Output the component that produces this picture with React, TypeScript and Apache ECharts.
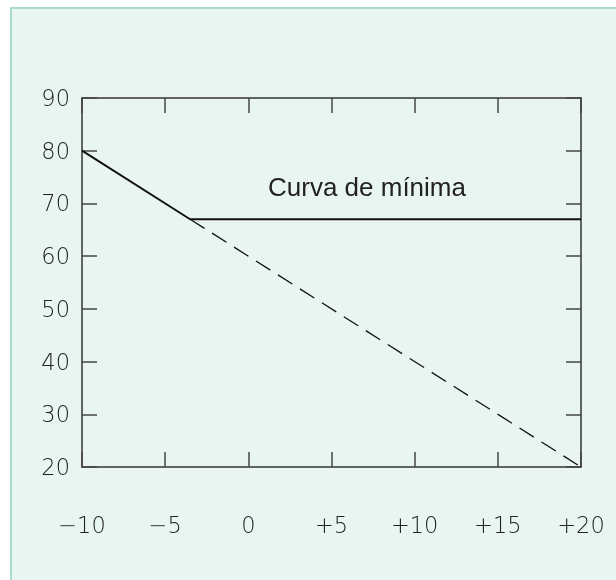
import React, { useEffect, useRef } from "react";
import * as echarts from "echarts";

const xTicks = [-10, -5, 0, 5, 10, 15, 20];
const yTicks = [20, 30, 40, 50, 60, 70, 80, 90];
const solidCurve: [number, number][] = [
  [-10, 80],
  [-3.5, 67],
  [20, 67],
];
const dashedCurve: [number, number][] = [
  [-3.5, 67],
  [20, 20],
];
const curveLabel = "Curva de mínima";

const fmtX = (v: number) => (v > 0 ? "+" + v : v < 0 ? "\u2212" + Math.abs(v) : "0");

export default function App() {
  const ref = useRef<HTMLDivElement>(null);
  useEffect(() => {
    if (!ref.current) return;
    const chart = echarts.init(ref.current, undefined, { renderer: "svg" });
    const labelFont = {
      fontFamily: "DejaVu Sans",
      fontSize: 22.5,
      fontWeight: 200 as any,
      color: "#222",
    };
    const axisLine = { show: true, onZero: false, lineStyle: { color: "#333", width: 1.5 } };
    const tick = { show: true, inside: true, length: 15, lineStyle: { color: "#444", width: 1.5 } };
    chart.setOption({
      animation: false,
      backgroundColor: "transparent",
      graphic: [
        {
          type: "rect",
          z: -10,
          silent: true,
          shape: { x: 11, y: 8, width: 620, height: 600 },
          style: { fill: "#e8f5f1", stroke: "#a8dbc9", lineWidth: 2 },
        },
        {
          type: "text",
          z: 10,
          style: {
            x: 367,
            y: 187,
            text: curveLabel,
            align: "center",
            verticalAlign: "middle",
            fontFamily: "Liberation Sans",
            fontSize: 26,
            fill: "#222",
          },
        },
      ],
      grid: { left: 82, right: 35, top: 98, bottom: 113, containLabel: false },
      xAxis: [
        {
          type: "value",
          position: "bottom",
          min: xTicks[0],
          max: xTicks[xTicks.length - 1],
          interval: 5,
          axisLine,
          axisTick: tick,
          splitLine: { show: false },
          axisLabel: { ...labelFont, margin: 46, verticalAlign: "top", formatter: fmtX },
        },
        {
          type: "value",
          position: "top",
          min: xTicks[0],
          max: xTicks[xTicks.length - 1],
          interval: 5,
          axisLine,
          axisTick: tick,
          splitLine: { show: false },
          axisLabel: { show: false },
        },
      ],
      yAxis: [
        {
          type: "value",
          position: "left",
          min: yTicks[0],
          max: yTicks[yTicks.length - 1],
          interval: 10,
          axisLine,
          axisTick: tick,
          splitLine: { show: false },
          axisLabel: { ...labelFont, margin: 12 },
        },
        {
          type: "value",
          position: "right",
          min: yTicks[0],
          max: yTicks[yTicks.length - 1],
          interval: 10,
          axisLine,
          axisTick: tick,
          splitLine: { show: false },
          axisLabel: { show: false },
        },
      ],
      series: [
        {
          type: "line",
          data: dashedCurve,
          symbol: "none",
          lineStyle: { color: "#111", width: 1.3, type: [17, 9] },
          z: 3,
        },
        {
          type: "line",
          data: solidCurve,
          symbol: "none",
          lineStyle: { color: "#111", width: 2 },
          z: 4,
        },
      ],
    });
    return () => chart.dispose();
  }, []);
  return (
    <div
      ref={ref}
      style={{ position: "fixed", left: 0, top: 0, width: 616, height: 580 }}
    />
  );
}
